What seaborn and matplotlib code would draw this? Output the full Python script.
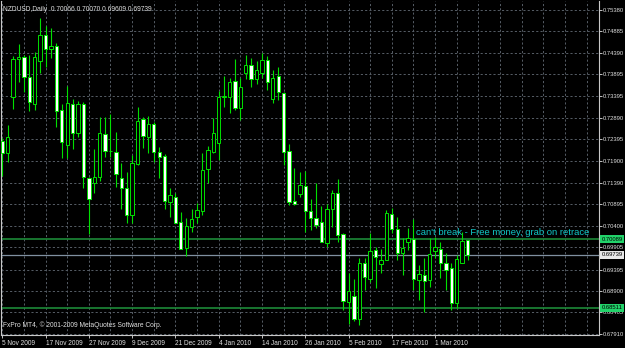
import numpy as np
import pandas as pd
import matplotlib
matplotlib.use("Agg")
import matplotlib.pyplot as plt
import seaborn as sns

# ---------------- data ----------------
header = "NZDUSD,Daily  0.70066 0.70070 0.69609 0.69739"
footer = "FxPro MT4, \u00a9 2001-2009 MetaQuotes Software Corp."
note = "can't break - Free money, grab on retrace"

opens = [0.72366, 0.72076, 0.73367, 0.74243, 0.74303, 0.73842, 0.73212, 0.74204, 0.74797, 0.74474,
         0.74550, 0.73074, 0.72267, 0.73205, 0.72537, 0.73205, 0.71499, 0.71384, 0.71536, 0.72521,
         0.72136, 0.72112, 0.71513, 0.71268, 0.70653, 0.71822, 0.72860, 0.72458, 0.72744, 0.72112,
         0.72013, 0.70959, 0.71075, 0.70498, 0.69899, 0.70383, 0.70600, 0.70752, 0.71707, 0.72112,
         0.72320, 0.73367, 0.73381, 0.73743, 0.73127, 0.73934, 0.74112, 0.73789, 0.73934, 0.74227,
         0.73321, 0.73858, 0.73473, 0.72129, 0.70976, 0.71137, 0.71328, 0.70752, 0.70577, 0.70484,
         0.70000, 0.70784, 0.71167, 0.70208, 0.68640, 0.68785, 0.68248, 0.69539, 0.69170, 0.69846,
         0.69523, 0.69615, 0.70669, 0.70323, 0.69770, 0.70037, 0.70092, 0.69154, 0.69269, 0.69154,
         0.69830, 0.69862, 0.69539, 0.69424, 0.68617, 0.69553, 0.70066]
highs = [0.72428, 0.72728, 0.74319, 0.74589, 0.74342, 0.74342, 0.74405, 0.75189, 0.75018, 0.74958,
         0.74612, 0.73212, 0.73627, 0.73321, 0.73282, 0.73265, 0.71529, 0.72168, 0.72906, 0.72906,
         0.72975, 0.72567, 0.71859, 0.71651, 0.72036, 0.73150, 0.72906, 0.72936, 0.72804, 0.72228,
         0.72059, 0.71268, 0.71167, 0.70729, 0.70577, 0.70784, 0.70923, 0.72089, 0.72244, 0.72883,
         0.73519, 0.73858, 0.73805, 0.74243, 0.73805, 0.74342, 0.74280, 0.74211, 0.74382, 0.74326,
         0.73996, 0.74059, 0.73500, 0.72290, 0.71730, 0.71651, 0.71667, 0.71022, 0.71384, 0.70860,
         0.70899, 0.71229, 0.71483, 0.70238, 0.69308, 0.69170, 0.69654, 0.69661, 0.70245, 0.69922,
         0.69862, 0.70768, 0.70807, 0.70600, 0.70115, 0.70346, 0.70554, 0.69500, 0.69654, 0.70115,
         0.70152, 0.70037, 0.69770, 0.69539, 0.69730, 0.70268, 0.70070]
lows = [0.71552, 0.71882, 0.73097, 0.73727, 0.73496, 0.73051, 0.73074, 0.73920, 0.74059, 0.74266,
        0.72689, 0.71974, 0.71974, 0.72168, 0.72458, 0.71268, 0.70208, 0.71153, 0.71444, 0.71997,
        0.71997, 0.71305, 0.70784, 0.70461, 0.70461, 0.71806, 0.72191, 0.72076, 0.71882, 0.71499,
        0.70791, 0.70614, 0.70461, 0.69862, 0.69707, 0.70268, 0.70461, 0.70653, 0.71398, 0.72076,
        0.71921, 0.73136, 0.72998, 0.73074, 0.72843, 0.73789, 0.73597, 0.73674, 0.73805, 0.73535,
        0.73242, 0.73305, 0.71806, 0.70883, 0.70883, 0.71068, 0.70268, 0.70307, 0.70346, 0.70019,
        0.69908, 0.70383, 0.70037, 0.68462, 0.68139, 0.68208, 0.68116, 0.68923, 0.69115, 0.68962,
        0.69308, 0.69604, 0.70231, 0.69615, 0.69269, 0.69846, 0.68923, 0.68693, 0.68423, 0.68999,
        0.69654, 0.69193, 0.68923, 0.68462, 0.68501, 0.69539, 0.69609]
closes = [0.72089, 0.72445, 0.74243, 0.74289, 0.73842, 0.73252, 0.74289, 0.74797, 0.74481, 0.74550,
          0.73058, 0.72343, 0.73229, 0.72537, 0.73205, 0.71536, 0.71015, 0.71522, 0.72537, 0.72136,
          0.72122, 0.71591, 0.71282, 0.70653, 0.71859, 0.72820, 0.72474, 0.72744, 0.72112, 0.71997,
          0.70976, 0.71114, 0.70475, 0.69869, 0.70399, 0.70554, 0.70768, 0.71690, 0.72152, 0.72551,
          0.73381, 0.73397, 0.73727, 0.73127, 0.73611, 0.74112, 0.73789, 0.73996, 0.74227, 0.73727,
          0.73819, 0.73482, 0.72112, 0.70946, 0.70906, 0.71345, 0.70752, 0.70590, 0.70422, 0.70037,
          0.70791, 0.71167, 0.70192, 0.68670, 0.68900, 0.68248, 0.69553, 0.69230, 0.69823, 0.69677,
          0.69615, 0.70692, 0.70330, 0.69770, 0.69885, 0.70115, 0.69170, 0.69285, 0.69131, 0.69746,
          0.69922, 0.69539, 0.69384, 0.68617, 0.69631, 0.70053, 0.69739]

start_date = "2009-11-05"
end_date = "2010-03-09"
holidays = ["2009-12-25", "2010-01-01"]

ytick_labels = ["0.75380", "0.74885", "0.74390", "0.73895", "0.73395", "0.72890", "0.72395",
                "0.71900", "0.71390", "0.70895", "0.70400", "0.69905", "0.69395", "0.68900",
                "0.68405", "0.67910"]
levels = [0.70089, 0.68511]
level_labels = ["0.70089", "0.68511"]
bid = 0.69739
bid_label = "0.69739"
note_price = 0.70250

# ---------------- build table ----------------
dates = pd.bdate_range(start_date, end_date)
dates = dates[~dates.isin(pd.to_datetime(holidays))]
df = pd.DataFrame({"date": dates, "open": opens, "high": highs, "low": lows, "close": closes})
df["i"] = np.arange(len(df))
df["bull"] = df["close"] >= df["open"]
df["body_lo"] = df[["open", "close"]].min(axis=1)
df["body_h"] = (df["close"] - df["open"]).abs()

# ---------------- style ----------------
sns.set_theme(style="dark", rc={"axes.facecolor": "black", "figure.facecolor": "black",
                                "savefig.facecolor": "black"})
plt.rcParams["font.family"] = ["Liberation Sans", "DejaVu Sans"]

W, H = 625, 348
fig = plt.figure(figsize=(W / 100, H / 100), dpi=100)
ax = fig.add_axes([1 / W, 13 / H, 598 / W, 334 / H])
ax.set_facecolor("black")

lime = "#00e000"
gridc = "#565d66"
txtc = "#e0e0e0"

ax.set_xlim(-0.24, 110.3)
ax.set_ylim(0.67886, 0.75587)
yvals = [float(s) for s in ytick_labels]
ax.set_yticks(yvals)
ax.set_yticklabels(ytick_labels)
lab_idx = df["i"].values[::8]
ax.set_xticks(lab_idx)
ax.set_xticklabels([f"{d.day} {d.strftime('%b %Y')}" for d in df["date"].iloc[::8]],
                   ha="left")
ax.grid(False)
for yv in yvals:
    ax.axhline(yv, color=gridc, lw=0.7, ls=(0, (2.2, 2.2)), zorder=1)
for xv in np.arange(0, 110, 4):
    ax.axvline(xv, color=gridc, lw=0.7, ls=(0, (2.2, 2.2)), zorder=1)

# levels
for lv in levels:
    ax.axhline(lv, color="#1c8a38", lw=1.2, zorder=2)
ax.axhline(bid, color="#8090a0", lw=0.9, zorder=2)

# candles
ax.vlines(df["i"], df["low"], df["high"], color=lime, lw=0.8, zorder=3)
ax.bar(df["i"], df["body_h"], bottom=df["body_lo"], width=0.62,
       color=np.where(df["bull"], "black", "white"), edgecolor=lime,
       linewidth=0.7, zorder=4)

# axes styling
ax.yaxis.tick_right()
ax.tick_params(axis="y", which="major", length=2.0, width=0.6, colors=txtc,
               labelsize=4.2, pad=0.8, right=True, left=False)
ax.tick_params(axis="x", which="major", length=2, width=0.6, colors=txtc,
               labelsize=4.7, pad=1.5, bottom=True)
for side in ["left", "right", "bottom"]:
    ax.spines[side].set_visible(True)
    ax.spines[side].set_color("#c8c8c8")
    ax.spines[side].set_linewidth(0.8)
ax.spines["top"].set_visible(False)

# header / footer / note
ax.text(0.004, 0.985, header, transform=ax.transAxes, color=txtc, fontsize=4.8,
        ha="left", va="top")
ax.text(0.004, 0.018, footer, transform=ax.transAxes, color=txtc, fontsize=4.8,
        ha="left", va="bottom")
ax.text(76.5, note_price, note, color="#10c8c8", fontsize=6.8, ha="left", va="center",
        zorder=5)

# price boxes on the right
box_kw = dict(transform=ax.get_yaxis_transform(), fontsize=4.2, ha="left", va="center",
              zorder=6, clip_on=False)
for lv, lb in zip(levels, level_labels):
    ax.text(1.004, lv, lb, color="black",
            bbox=dict(boxstyle="square,pad=0.25", fc="#22d36a", ec="none"), **box_kw)
ax.text(1.004, bid, bid_label, color="black",
        bbox=dict(boxstyle="square,pad=0.25", fc="#e8e8e8", ec="none"), **box_kw)

fig.savefig("out.png", dpi=100, facecolor="black")
